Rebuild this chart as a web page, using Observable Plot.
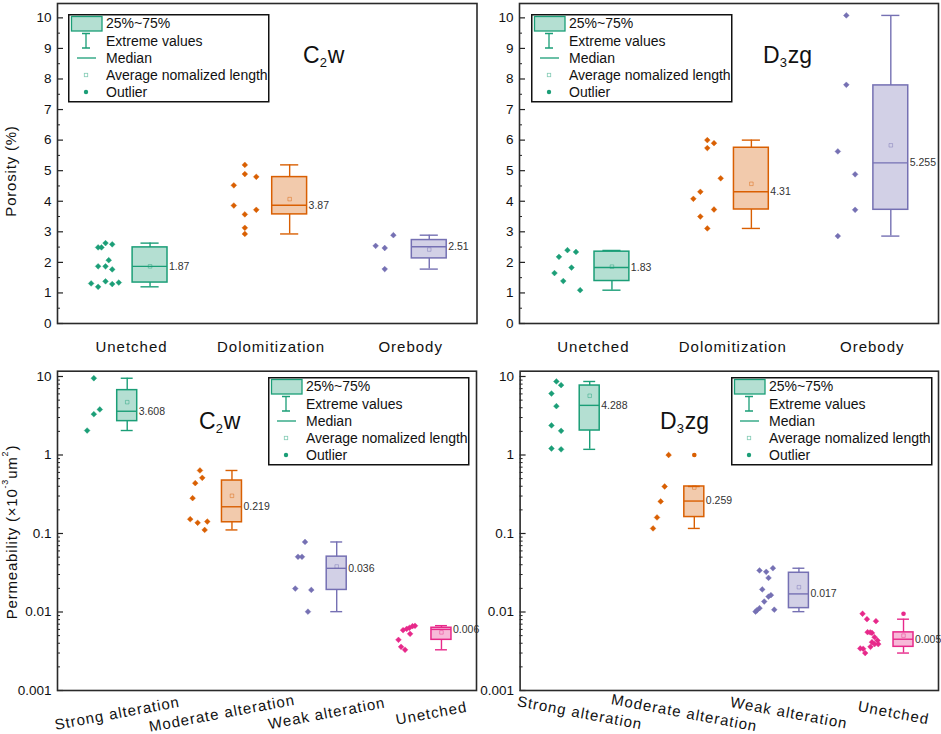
<!DOCTYPE html>
<html><head><meta charset="utf-8">
<script src="https://cdn.jsdelivr.net/npm/d3@7"></script>
<script src="https://cdn.jsdelivr.net/npm/@observablehq/plot@0.6"></script>
<style>
body{margin:0;background:#fff;}
#wrap{position:relative;width:941px;height:734px;overflow:hidden;font-family:"Liberation Sans",Arial,sans-serif;background:#fff;}
.panel{position:absolute;}
#overlay{position:absolute;left:0;top:0;pointer-events:none;}
</style></head><body><div id="wrap"></div>
<script>
// ---------- categories & colours ----------
const colors = ["#1b9e77", "#d95f02", "#7570b3", "#e7298a"];
const porosityCats = ["Unetched", "Dolomitization", "Orebody"];
const permCats = ["Strong alteration", "Moderate alteration", "Weak alteration", "Unetched"];
const legendLabels = ["25%~75%", "Extreme values", "Median", "Average nomalized length", "Outlier"];

// ---------- C2w porosity (%) ----------
const c2wPorCat = [0,0,0,0,0,0,0,0,0,0,0,0,0, 1,1,1,1,1,1,1,1,1, 2,2,2,2];
const c2wPorVal = [1.31,1.20,1.38,1.29,1.34,1.87,1.87,1.77,2.07,2.49,2.49,2.63,2.59,
                   5.19,4.89,4.80,4.52,3.86,3.72,3.57,3.13,2.93,
                   2.89,2.54,2.47,1.78];
const c2wPorJit = [-0.289,-0.239,-0.186,-0.138,-0.091,-0.239,-0.186,-0.138,-0.163,-0.239,-0.215,-0.186,-0.138,
                   -0.188,-0.188,-0.106,-0.267,-0.267,-0.106,-0.188,-0.188,-0.188,
                   -0.124,-0.251,-0.186,-0.186];
const c2wPorLo = [1.20, 2.93, 1.78];
const c2wPorQ1 = [1.34, 3.57, 2.13];
const c2wPorMed = [1.87, 3.87, 2.51];
const c2wPorQ3 = [2.49, 4.79, 2.73];
const c2wPorHi = [2.63, 5.19, 2.89];
const c2wPorMean = [1.87, 4.07, 2.42];
const c2wPorLabel = ["1.87", "3.87", "2.51"];

// ---------- D3zg porosity (%) ----------
const d3zPorCat = [0,0,0,0,0,0,0, 1,1,1,1,1,1,1,1,1, 2,2,2,2,2,2];
const d3zPorVal = [2.40,2.34,2.18,1.83,1.65,1.39,1.09,
                   6.00,5.90,5.74,4.75,4.31,4.08,3.73,3.50,3.11,
                   10.08,7.81,5.63,4.88,3.72,2.86];
const d3zPorJit = [-0.186,-0.125,-0.247,-0.157,-0.279,-0.216,-0.095,
                   -0.183,-0.135,-0.183,-0.087,-0.233,-0.283,-0.135,-0.233,-0.183,
                   -0.186,-0.186,-0.247,-0.123,-0.123,-0.247];
const d3zPorLo = [1.09, 3.11, 2.86];
const d3zPorQ1 = [1.39, 3.73, 3.72];
const d3zPorMed = [1.83, 4.31, 5.255];
const d3zPorQ3 = [2.35, 5.75, 7.79];
const d3zPorHi = [2.39, 6.00, 10.08];
const d3zPorMean = [1.86, 4.57, 5.83];
const d3zPorLabel = ["1.83", "4.31", "5.255"];

// ---------- C2w permeability (×10⁻³ um²) ----------
const c2wPermCat = [0,0,0,0, 1,1,1,1,1,1,1,1, 2,2,2,2,2,2, 3,3,3,3,3,3,3,3,3];
const c2wPermVal = [9.5,3.80,3.31,2.05,
                    0.635,0.512,0.438,0.282,0.152,0.137,0.142,0.111,
                    0.078,0.0505,0.0505,0.0199,0.0191,0.0101,
                    0.00667,0.0066,0.00628,0.0061,0.00587,0.00527,0.00442,0.0036,0.0033];
const c2wPermJit = [-0.223,-0.166,-0.223,-0.287,
                    -0.210,-0.188,-0.255,-0.280,-0.303,-0.232,-0.140,-0.165,
                    -0.207,-0.274,-0.236,-0.300,-0.147,-0.179,
                    -0.157,-0.181,-0.210,-0.236,-0.271,-0.204,-0.315,-0.290,-0.252];
const c2wPermLo = [2.05, 0.111, 0.0101, 0.0033];
const c2wPermQ1 = [2.70, 0.139, 0.0191, 0.00442];
const c2wPermMed = [3.608, 0.219, 0.036, 0.006];
const c2wPermQ3 = [6.70, 0.473, 0.0507, 0.0063];
const c2wPermHi = [9.5, 0.635, 0.078, 0.0067];
const c2wPermMean = [4.71, 0.302, 0.038, 0.0055];
const c2wPermLabel = ["3.608", "0.219", "0.036", "0.006"];

// ---------- D3zg permeability ----------
const d3zPermCat = [0,0,0,0,0,0,0,0, 1,1,1,1,1, 2,2,2,2,2,2,2,2,2,2,2,2, 3,3,3,3,3,3,3,3,3,3,3,3,3,3,3];
const d3zPermVal = [8.64,7.76,6.07,4.19,2.38,2.03,1.21,1.18,
                    1.0,0.397,0.256,0.160,0.116,
                    0.0361,0.0338,0.0325,0.0272,0.0194,0.0164,0.0157,0.0136,0.0112,0.0107,0.0105,0.0101,
                    0.0095,0.0081,0.00764,0.00553,0.00542,0.0055,0.00477,0.00413,0.00434,0.0039,0.0039,0.0036,0.00343,0.0034,0.0030];
const d3zPermJit = [-0.223,-0.178,-0.270,-0.223,-0.270,-0.178,-0.270,-0.178,
                    -0.150,-0.188,-0.226,-0.261,-0.299,
                    -0.153,-0.281,-0.217,-0.195,-0.255,-0.172,-0.195,-0.236,-0.281,-0.140,-0.306,-0.319,
                    -0.296,-0.254,-0.168,-0.248,-0.206,-0.223,-0.181,-0.206,-0.153,-0.181,-0.146,-0.220,-0.318,-0.290,-0.271];
const d3zPermLo = [1.18, 0.116, 0.0101, 0.0030];
const d3zPermQ1 = [2.05, 0.162, 0.0112, 0.0036];
const d3zPermMed = [4.288, 0.259, 0.017, 0.0045];
const d3zPermQ3 = [7.67, 0.397, 0.0316, 0.0055];
const d3zPermHi = [8.64, 0.397, 0.0361, 0.0081];
const d3zPermMean = [5.68, 0.385, 0.0207, 0.0050];
const d3zPermLabel = ["4.288", "0.259", "0.017", "0.005"];
const d3zPermOutCat = [1, 3];
const d3zPermOutVal = [1.0, 0.0095];

// ---------- helpers ----------
const FONT = '"Liberation Sans", Arial, sans-serif';
const wrap = document.getElementById("wrap");

function boxTable(lo, q1, med, q3, hi, mean, label) {
  return lo.map((_, i) => ({i, lo: lo[i], q1: q1[i], med: med[i], q3: q3[i], hi: hi[i], mean: mean[i], label: label[i], color: colors[i]}));
}
function ptsTable(cat, val, jit) {
  return cat.map((c, k) => ({i: c, v: val[k], j: jit[k], color: colors[c]}));
}

function panel(cfg) {
  const fw = cfg.width - cfg.mL - cfg.mR;
  const isLog = cfg.log;
  let major, minor;
  if (isLog) {
    major = [0.001, 0.01, 0.1, 1, 10];
    minor = [];
    for (const d of [0.001, 0.01, 0.1, 1]) for (let m = 2; m <= 9; m++) minor.push(d * m);
  } else {
    major = d3.range(0, 11, 1);
    minor = d3.range(0.5, 10.5, 1);
  }
  const off = cfg.boxOff, hw = cfg.boxHw, cap = cfg.capHw;
  const boxes = cfg.boxes, pts = cfg.pts;
  const marks = [
    Plot.tickY(minor, {y: d => d, insetRight: fw - 3, stroke: "#222", strokeWidth: 1}),
    Plot.tickY(major, {y: d => d, insetRight: fw - 6, stroke: "#222", strokeWidth: 1.2}),
    Plot.axisY(major, {tickSize: 0, tickPadding: 6, tickFormat: d => String(d), fill: "#111"}),
    // whiskers
    Plot.ruleX(boxes, {x: d => d.i + off, y1: "q3", y2: "hi", stroke: "color", strokeWidth: 1.4}),
    Plot.ruleX(boxes, {x: d => d.i + off, y1: "lo", y2: "q1", stroke: "color", strokeWidth: 1.4}),
    Plot.ruleY(boxes, {y: "hi", x1: d => d.i + off - cap, x2: d => d.i + off + cap, stroke: "color", strokeWidth: 1.4}),
    Plot.ruleY(boxes, {y: "lo", x1: d => d.i + off - cap, x2: d => d.i + off + cap, stroke: "color", strokeWidth: 1.4}),
    // box
    Plot.rect(boxes, {x1: d => d.i + off - hw, x2: d => d.i + off + hw, y1: "q1", y2: "q3", fill: "color", fillOpacity: 0.33, stroke: "color", strokeWidth: 1.5}),
    Plot.ruleY(boxes, {y: "med", x1: d => d.i + off - hw, x2: d => d.i + off + hw, stroke: "color", strokeWidth: 1.4}),
    Plot.dot(boxes, {x: d => d.i + off, y: "mean", symbol: "square", r: 2, stroke: "color", strokeOpacity: 0.55, strokeWidth: 0.8, fill: "none"}),
    Plot.text(boxes, {x: d => d.i + off + hw, y: "med", text: "label", textAnchor: "start", dx: 1.5, fontSize: 10.5, fill: "#333"}),
    // samples
    Plot.dot(pts, {x: d => d.i + d.j, y: "v", symbol: "diamond2", r: 2.6, fill: "color", stroke: "color", strokeWidth: 0.4})
  ];
  if (cfg.outliers) {
    marks.push(Plot.dot(cfg.outliers, {x: d => d.i + off, y: "v", r: 2.3, fill: "color"}));
  }
  marks.push(Plot.frame({stroke: "#2a2a2a", strokeWidth: 1.6}));
  marks.push(Plot.text(cfg.cats.map((c, i) => ({c, i})), {x: "i", text: "c", frameAnchor: "bottom", dy: cfg.labelDy, rotate: cfg.rotate, fontSize: 15, fill: "#111", textAnchor: "middle", lineAnchor: "middle"}));
  const svg = Plot.plot({
    width: cfg.width, height: cfg.height,
    marginLeft: cfg.mL, marginRight: cfg.mR, marginTop: cfg.mT, marginBottom: cfg.mB,
    x: {type: "linear", domain: cfg.xDomain, axis: null},
    y: isLog ? {type: "log", domain: cfg.yDomain, axis: null} : {type: "linear", domain: cfg.yDomain, axis: null},
    color: {type: "identity"},
    style: {fontFamily: FONT, fontSize: "13.5px", color: "#111", background: "transparent", overflow: "visible"},
    marks
  });
  // letter spacing for category labels (last text mark)
  const tg = svg.querySelectorAll('g[aria-label="text"]');
  if (tg.length) tg[tg.length - 1].setAttribute("letter-spacing", "1");
  svg.classList.add("panel");
  svg.style.position = "absolute";
  svg.style.left = cfg.left + "px";
  svg.style.top = cfg.top + "px";
  svg.style.maxWidth = "none";
  wrap.appendChild(svg);
}

// ---------- panels ----------
panel({left: 0, top: 0, width: 480, height: 360, mL: 57, mR: 3.5, mT: 3, mB: 37,
  xDomain: [-0.53, 2.475], yDomain: [0, 10.47], log: false,
  boxOff: 0.133, boxHw: 0.125, capHw: 0.065, labelDy: 24, rotate: 0, cats: porosityCats,
  boxes: boxTable(c2wPorLo, c2wPorQ1, c2wPorMed, c2wPorQ3, c2wPorHi, c2wPorMean, c2wPorLabel),
  pts: ptsTable(c2wPorCat, c2wPorVal, c2wPorJit)});

panel({left: 470, top: 0, width: 471, height: 360, mL: 49, mR: 3, mT: 3, mB: 37,
  xDomain: [-0.53, 2.475], yDomain: [0, 10.47], log: false,
  boxOff: 0.133, boxHw: 0.125, capHw: 0.065, labelDy: 24, rotate: 0, cats: porosityCats,
  boxes: boxTable(d3zPorLo, d3zPorQ1, d3zPorMed, d3zPorQ3, d3zPorHi, d3zPorMean, d3zPorLabel),
  pts: ptsTable(d3zPorCat, d3zPorVal, d3zPorJit)});

panel({left: 0, top: 360, width: 480, height: 374, mL: 57, mR: 4, mT: 10.7, mB: 44,
  xDomain: [-0.57, 3.43], yDomain: [0.001, 11.68], log: true,
  boxOff: 0.0955, boxHw: 0.0955, capHw: 0.057, labelDy: 23, rotate: -10.6, cats: permCats,
  boxes: boxTable(c2wPermLo, c2wPermQ1, c2wPermMed, c2wPermQ3, c2wPermHi, c2wPermMean, c2wPermLabel),
  pts: ptsTable(c2wPermCat, c2wPermVal, c2wPermJit)});

panel({left: 470, top: 360, width: 471, height: 374, mL: 49.6, mR: 3, mT: 10.7, mB: 44,
  xDomain: [-0.57, 3.43], yDomain: [0.001, 11.68], log: true,
  boxOff: 0.0955, boxHw: 0.0955, capHw: 0.057, labelDy: 22.5, rotate: 10.6, cats: permCats,
  boxes: boxTable(d3zPermLo, d3zPermQ1, d3zPermMed, d3zPermQ3, d3zPermHi, d3zPermMean, d3zPermLabel),
  pts: ptsTable(d3zPermCat, d3zPermVal, d3zPermJit),
  outliers: d3zPermOutCat.map((c, k) => ({i: c, v: d3zPermOutVal[k], color: colors[c]}))});

// ---------- overlay: titles, axis titles, legends ----------
const ov = d3.select("#wrap").append("svg").attr("id", "overlay")
  .attr("width", 941).attr("height", 734).style("font-family", FONT);

function title(x, y, main, sub, rest) {
  const t = ov.append("text").attr("x", x).attr("y", y).attr("font-size", 23).attr("fill", "#111");
  t.append("tspan").text(main);
  t.append("tspan").attr("font-size", 13).attr("dy", 4).text(sub);
  t.append("tspan").attr("dy", -4).attr("dx", 1).text(rest);
}
title(303, 63, "C", "2", "w");
title(763, 63, "D", "3", "zg");
title(199, 429, "C", "2", "w");
title(660, 429, "D", "3", "zg");

function yTitle(cx, cy, build) {
  const t = ov.append("text").attr("transform", `translate(${cx},${cy}) rotate(-90)`)
    .attr("text-anchor", "middle").attr("dominant-baseline", "central")
    .attr("font-size", 15).attr("letter-spacing", 0.8).attr("fill", "#111");
  build(t);
}
yTitle(10.5, 171, t => t.text("Porosity (%)"));
yTitle(10.5, 532, t => {
  t.append("tspan").text("Permeability (×10");
  t.append("tspan").attr("font-size", 9).attr("dy", -6).text("-3");
  t.append("tspan").attr("dy", 6).text("um");
  t.append("tspan").attr("font-size", 9).attr("dy", -6).text("2");
  t.append("tspan").attr("dy", 6).text(")");
});

function legend(x, y) {
  const c = colors[0];
  const g = ov.append("g").attr("transform", `translate(${x},${y})`);
  g.append("rect").attr("x", 0.75).attr("y", 0.75).attr("width", 200).attr("height", 87)
    .attr("fill", "white").attr("stroke", "#111").attr("stroke-width", 1.5);
  g.append("rect").attr("x", 3.5).attr("y", 2.5).attr("width", 30.5).attr("height", 14.5)
    .attr("fill", c).attr("fill-opacity", 0.33).attr("stroke", c).attr("stroke-width", 1.3);
  g.append("path").attr("d", "M14,19.5H22M18,19.5V34M14,34H22").attr("stroke", c)
    .attr("fill", "none").attr("stroke-width", 1.3);
  g.append("path").attr("d", "M9,44H28").attr("stroke", c).attr("stroke-width", 1.3);
  g.append("rect").attr("x", 16.3).attr("y", 59.3).attr("width", 3.4).attr("height", 3.4)
    .attr("fill", "none").attr("stroke", c).attr("stroke-opacity", 0.55).attr("stroke-width", 0.8);
  g.append("circle").attr("cx", 18).attr("cy", 78).attr("r", 2.2).attr("fill", c);
  const rows = [9, 27, 44, 61, 78];
  legendLabels.forEach((s, k) => {
    g.append("text").attr("x", 38).attr("y", rows[k]).attr("dominant-baseline", "central")
      .attr("font-size", 14).attr("fill", "#111").text(s);
  });
}
legend(68, 14);
legend(531, 14);
legend(268, 377);
legend(731, 377);
</script></body></html>
